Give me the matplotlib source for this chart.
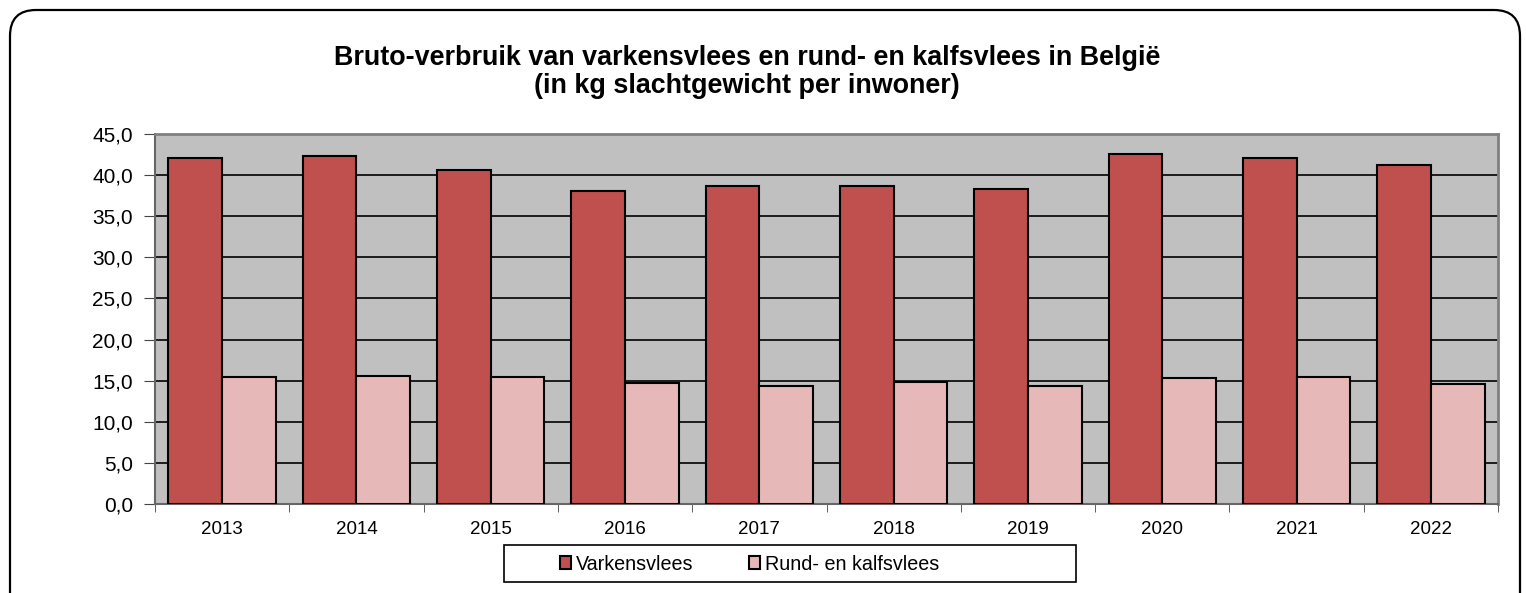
import matplotlib
matplotlib.use("Agg")
import matplotlib.pyplot as plt
from matplotlib.patches import FancyBboxPatch, Rectangle
import numpy as np

years = ["2013", "2014", "2015", "2016", "2017", "2018", "2019", "2020", "2021", "2022"]
varkensvlees = [42.1, 42.3, 40.6, 38.1, 38.7, 38.7, 38.3, 42.6, 42.1, 41.2]
rund_kalfsvlees = [15.4, 15.6, 15.4, 14.7, 14.4, 14.8, 14.4, 15.3, 15.4, 14.6]
series_names = ["Varkensvlees", "Rund- en kalfsvlees"]
title = "Bruto-verbruik van varkensvlees en rund- en kalfsvlees in België\n(in kg slachtgewicht per inwoner)"

plt.rcParams['font.family'] = ['Liberation Sans', 'DejaVu Sans']

W, H = 1526, 593
fig = plt.figure(figsize=(W / 100, H / 100), dpi=100)

# background axes in pixel coordinates for the rounded outer frame and legend box
bg = fig.add_axes([0, 0, 1, 1], zorder=-1)
bg.set_xlim(0, W)
bg.set_ylim(H, 0)
bg.axis("off")
frame = FancyBboxPatch((10, 10), 1510, 640, boxstyle="round,pad=0,rounding_size=26",
                       fc="white", ec="black", lw=1.6)
bg.add_patch(frame)
bg.add_patch(Rectangle((504, 545), 572, 37, fc="white", ec="black", lw=1.2))

left, right, top, bottom = 155, 1498, 134, 504
ax = fig.add_axes([left / W, 1 - bottom / H, (right - left) / W, (bottom - top) / H])
ax.set_facecolor("#C0C0C0")

x = np.arange(len(years))
bw = 0.4
ax.bar(x - bw / 2, varkensvlees, width=bw, color="#C0504D", edgecolor="black", lw=1.5,
       label=series_names[0], zorder=3)
ax.bar(x + bw / 2, rund_kalfsvlees, width=bw, color="#E6B9B8", edgecolor="black", lw=1.5,
       label=series_names[1], zorder=3)

ax.set_xlim(-0.5, len(years) - 0.5)
ax.set_ylim(0, 45)
yt = np.arange(0, 45.1, 5)
ax.set_yticks(yt)
ax.set_yticklabels([f"{v:.1f}".replace(".", ",") for v in yt], fontsize=15)
ax.yaxis.grid(True, color="black", lw=1.2, zorder=1)
ax.set_axisbelow(True)

ax.set_xticks(x)
ax.set_xticklabels(years, fontsize=13.5)
ax.set_xticks(np.arange(-0.5, len(years), 1), minor=True)
ax.tick_params(axis="x", which="major", length=0, pad=12)
ax.tick_params(axis="x", which="minor", length=6, color="#444444")
ax.tick_params(axis="y", length=8, color="#444444", pad=8)

for s in ["top", "right"]:
    ax.spines[s].set_color("#808080")
    ax.spines[s].set_linewidth(2)
ax.spines["left"].set_color("#666666")
ax.spines["left"].set_linewidth(1.5)
ax.spines["bottom"].set_color("#666666")
ax.spines["bottom"].set_linewidth(1.5)

fig.text(0.5 * (333 + 1161) / W, 1 - 72 / H, title, ha="center", va="center",
         fontsize=19.4, fontweight="bold", linespacing=1.12)

leg = fig.legend(loc="center left", bbox_to_anchor=(560 / W, 1 - 564 / H), ncol=2,
                 fontsize=14.2, frameon=False,
                 handlelength=0.57, handleheight=0.57, handletextpad=0.25, columnspacing=2.8,
                 borderpad=0, borderaxespad=0)

fig.savefig("out.png", dpi=100)
